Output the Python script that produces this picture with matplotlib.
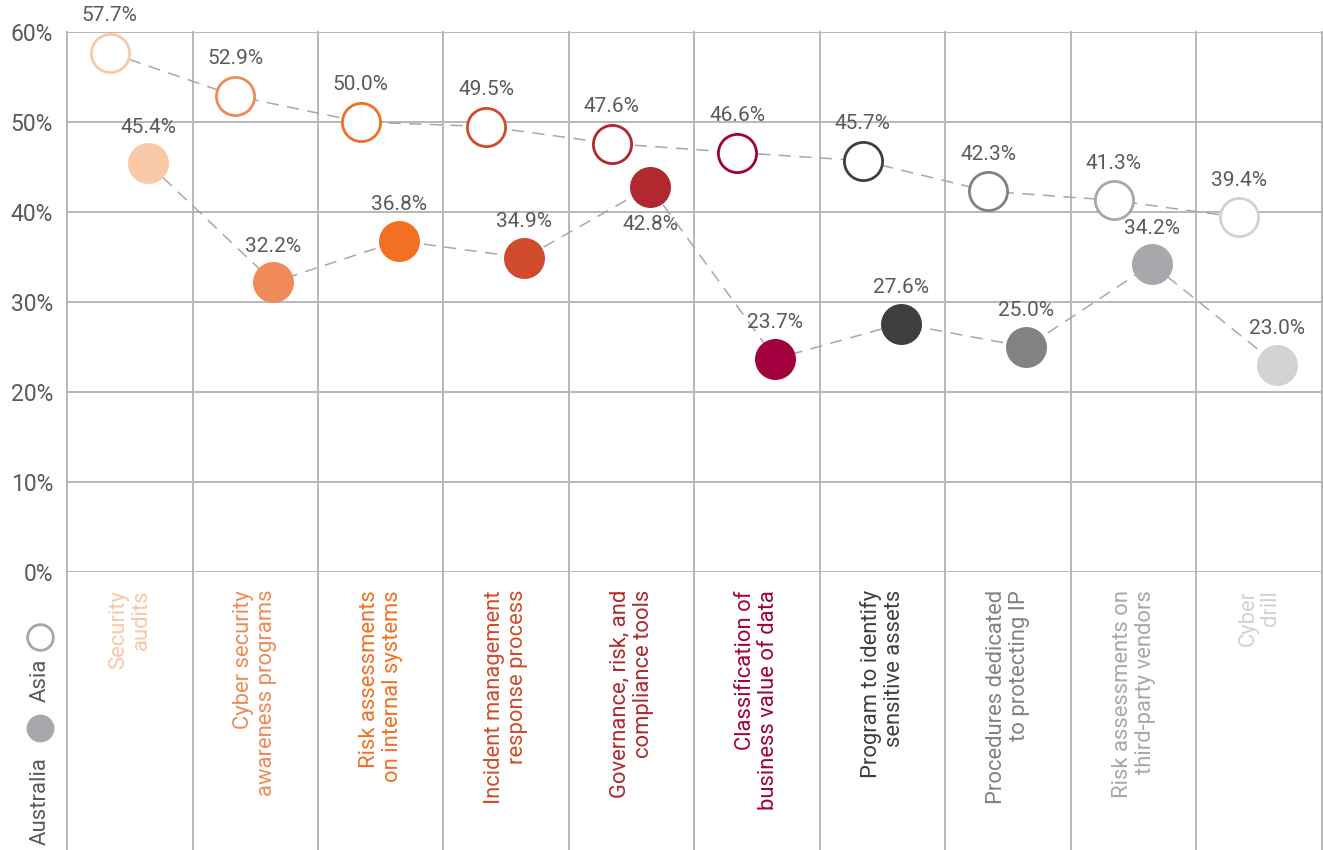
import matplotlib
matplotlib.use("Agg")
import matplotlib.pyplot as plt
from matplotlib.lines import Line2D

plt.rcParams['font.family'] = ['Roboto', 'DejaVu Sans']

categories = ["Security\naudits", "Cyber security\nawareness programs",
              "Risk assessments\non internal systems", "Incident management\nresponse process",
              "Governance, risk, and\ncompliance tools", "Classification of\nbusiness value of data",
              "Program to identify\nsensitive assets", "Procedures dedicated\nto protecting IP",
              "Risk assessments on\nthird-party vendors", "Cyber\ndrill"]
asia = [57.7, 52.9, 50.0, 49.5, 47.6, 46.6, 45.7, 42.3, 41.3, 39.4]
australia = [45.4, 32.2, 36.8, 34.9, 42.8, 23.7, 27.6, 25.0, 34.2, 23.0]
colors = ["#f9c8a8", "#f08a58", "#f27022", "#d04b2c", "#b1282e", "#a2003e",
          "#3f3f41", "#828285", "#a7a8ab", "#d1d2d4"]
yticks = [0, 10, 20, 30, 40, 50, 60]
ytick_labels = ["0%", "10%", "20%", "30%", "40%", "50%", "60%"]
aus_label_below = [False, False, False, False, True, False, False, False, False, False]

W, H = 1323, 850
fig = plt.figure(figsize=(W / 100, H / 100), dpi=100)
ax = fig.add_axes([67 / W, 1 - 572 / H, (1322 - 67) / W, 540 / H])
ax.set_xlim(0, 10)
ax.set_ylim(0, 60)
for s in ax.spines.values():
    s.set_visible(False)
ax.set_xticks([])
ax.set_yticks(yticks)
ax.set_yticklabels(ytick_labels, fontsize=16.5, color="#5a5a5a")
ax.tick_params(axis='y', length=0, pad=10)

grid_c = "#b8b8bb"
for y in yticks:
    ax.axhline(y, color=grid_c, lw=1.4, zorder=1)
bottom_frac = -(H - 572) / 540
for i in range(11):
    ax.plot([i, i], [bottom_frac, 1], transform=ax.get_xaxis_transform(),
            color=grid_c, lw=1.4, clip_on=False, zorder=1)

n = len(categories)
xa = [i + 0.34 for i in range(n)]
xb = [i + 0.645 for i in range(n)]

dash_kw = dict(color="#a8a8a8", lw=1.1, dashes=(8, 5.5), zorder=2)
ax.plot(xa, asia, **dash_kw)
ax.plot(xb, australia, **dash_kw)

for i in range(n):
    ax.plot(xa[i], asia[i], 'o', ms=27.5, mfc='white', mec=colors[i], mew=2.0, zorder=3, clip_on=False)
    ax.plot(xb[i], australia[i], 'o', ms=29.5, mfc=colors[i], mec=colors[i], mew=0, zorder=3, clip_on=False)
    ax.annotate(f"{asia[i]:.1f}%", (xa[i], asia[i]), xytext=(0, 37), textcoords='offset pixels',
                ha='center', va='center', fontsize=15, color="#5a5a5a",
                annotation_clip=False)
    dy = -38 if aus_label_below[i] else 36
    ax.annotate(f"{australia[i]:.1f}%", (xb[i], australia[i]), xytext=(0, dy), textcoords='offset pixels',
                ha='center', va='center', fontsize=15, color="#5a5a5a",
                annotation_clip=False)
    ax.text(i + 0.5, -18 / 540 * 60, categories[i], rotation=90, ha='center', va='top',
            multialignment='right', fontsize=15.8, color=colors[i], linespacing=1.12)

# legend
fig.text(40 / W, 1 - 845 / H, "Australia", rotation=90, ha='center', va='bottom',
         fontsize=16, color="#5a5a5a")
fig.add_artist(Line2D([40 / W], [1 - 728 / H], marker='o', ms=20, mfc="#a7a8ab", mec="#a7a8ab",
                      mew=0, transform=fig.transFigure))
fig.text(40 / W, 1 - 702 / H, "Asia", rotation=90, ha='center', va='bottom',
         fontsize=16, color="#5a5a5a")
fig.add_artist(Line2D([40 / W], [1 - 637 / H], marker='o', ms=18.5, mfc="white", mec="#a7a8ab",
                      mew=2.0, transform=fig.transFigure))

fig.savefig("out.png", dpi=100)
